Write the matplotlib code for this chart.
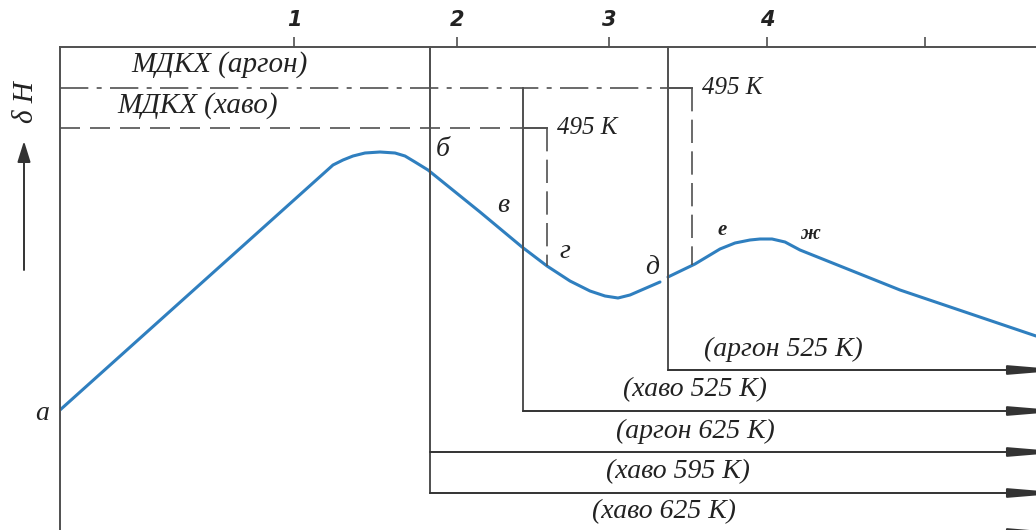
import numpy as np
import matplotlib.pyplot as plt

# δH curve, split at point д where the line steps up
curve1_x = [0, 273, 283, 293, 305, 320, 335, 345, 355, 368, 420, 462, 487, 510, 530, 545, 558, 570, 600]
curve1_y = [120, 365, 370, 374, 377, 378, 377, 374, 368, 360, 318, 283, 264, 249, 239, 234, 232, 235, 248]
curve2_x = [608, 635, 660, 675, 690, 700, 712, 725, 740, 840, 976]
curve2_y = [253, 266, 281, 287, 290, 291, 291, 288, 280, 240, 194]

# top scale
scale_x = [234, 397, 549, 707, 865]
scale_labels = ['1', '2', '3', '4', '']

# МДКХ levels and the 495 K steps
levels = {'аргон': 442, 'хаво': 402}
step_start = {'аргон': 608, 'хаво': 463}
step_end = {'аргон': 632, 'хаво': 487}

# temperature branches: vertical start, its top, and the arrow level
branch_x = [608, 463, 370, 370, 0]
branch_top = [483, 442, 483, 483, 483]
branch_y = [160, 119, 78, 37, -3]
branch_labels = ['(аргон 525 К)', '(хаво 525 К)', '(аргон 625 К)', '(хаво 595 К)', '(хаво 625 К)']
branch_label_x = [723, 635, 635, 618, 604]

# point letters on the curve
point_labels = ['а', 'б', 'в', 'г', 'д', 'е', 'ж']
point_x = [-18, 383, 443, 505, 592, 662, 750]
point_y = [116, 380, 325, 278, 263, 300, 296]

ink = '#505050'
blue = '#2f7fbf'
serif = dict(family='Liberation Serif', style='italic', color='#222222')

fig = plt.figure(figsize=(10.36, 5.30), dpi=100)
ax = fig.add_axes([60 / 1036, 0, 976 / 1036, 483 / 530])
ax.set_xlim(0, 976)
ax.set_ylim(0, 483)

for side in ['right', 'bottom']:
    ax.spines[side].set_visible(False)
for side in ['top', 'left']:
    ax.spines[side].set_color(ink)
    ax.spines[side].set_linewidth(1.4)

ax.xaxis.tick_top()
ax.set_xticks(scale_x)
ax.set_xticklabels(scale_labels, family='DejaVu Sans', style='italic',
                   weight='bold', fontsize=15, color='#222222')
ax.tick_params(axis='x', direction='out', length=7, width=1.2, color=ink, pad=5)
ax.set_yticks([])

# curve
ax.plot(curve1_x, curve1_y, color=blue, lw=2.2, solid_capstyle='round')
ax.plot(curve2_x, curve2_y, color=blue, lw=2.2, solid_capstyle='round')

# МДКХ lines
ax.plot([0, step_start['аргон']], [levels['аргон']] * 2, color=ink, lw=1.2,
        linestyle=(0, (17, 5, 3, 5)))
ax.plot([0, step_start['хаво']], [levels['хаво']] * 2, color=ink, lw=1.2,
        linestyle=(0, (12, 6)))
ax.text(160, 465, 'МДКХ (аргон)', ha='center', va='center', fontsize=21, **serif)
ax.text(138, 424, 'МДКХ (хаво)', ha='center', va='center', fontsize=21, **serif)

for gas in ['аргон', 'хаво']:
    lvl = levels[gas]
    x0, x1 = step_start[gas], step_end[gas]
    ax.plot([x0, x1], [lvl, lvl], color=ink, lw=1.4)
    y_end = np.interp(x1, curve1_x + curve2_x, curve1_y + curve2_y)
    ax.plot([x1, x1], [lvl, y_end], color=ink, lw=1.2, linestyle=(0, (14, 5)))
    ax.text(x1 + 10, lvl, '495 К', ha='left', va='center', fontsize=18, **serif)

# temperature branches with arrows
for bx, top, by, lab, lx in zip(branch_x, branch_top, branch_y, branch_labels, branch_label_x):
    if bx > 0:
        ax.plot([bx, bx], [top, by], color=ink, lw=1.4, clip_on=False)
    ax.annotate('', xy=(1006, by), xytext=(bx, by), annotation_clip=False,
                arrowprops=dict(arrowstyle='-|>,head_length=1.7,head_width=0.14',
                                mutation_scale=20, color='#333333', lw=1.4,
                                shrinkA=0, shrinkB=0))
    ax.text(lx, by + 21, lab, ha='center', va='center', fontsize=20, **serif)

for lab, px, py in zip(point_labels, point_x, point_y):
    small = lab in ('е', 'ж')
    ax.text(px, py, lab, ha='center', va='center', fontsize=15 if small else 20,
            weight='bold' if small else 'normal', clip_on=False, **serif)

# δH axis arrow
ax.annotate('', xy=(-36, 389), xytext=(-36, 260), annotation_clip=False,
            arrowprops=dict(arrowstyle='-|>,head_length=0.8,head_width=0.25',
                            mutation_scale=16, color='#333333', lw=1.4,
                            shrinkA=0, shrinkB=0))
ax.text(-34, 428, 'δ H', rotation=90, ha='center', va='center', fontsize=21, **serif)

fig.savefig('out.png', dpi=100)
